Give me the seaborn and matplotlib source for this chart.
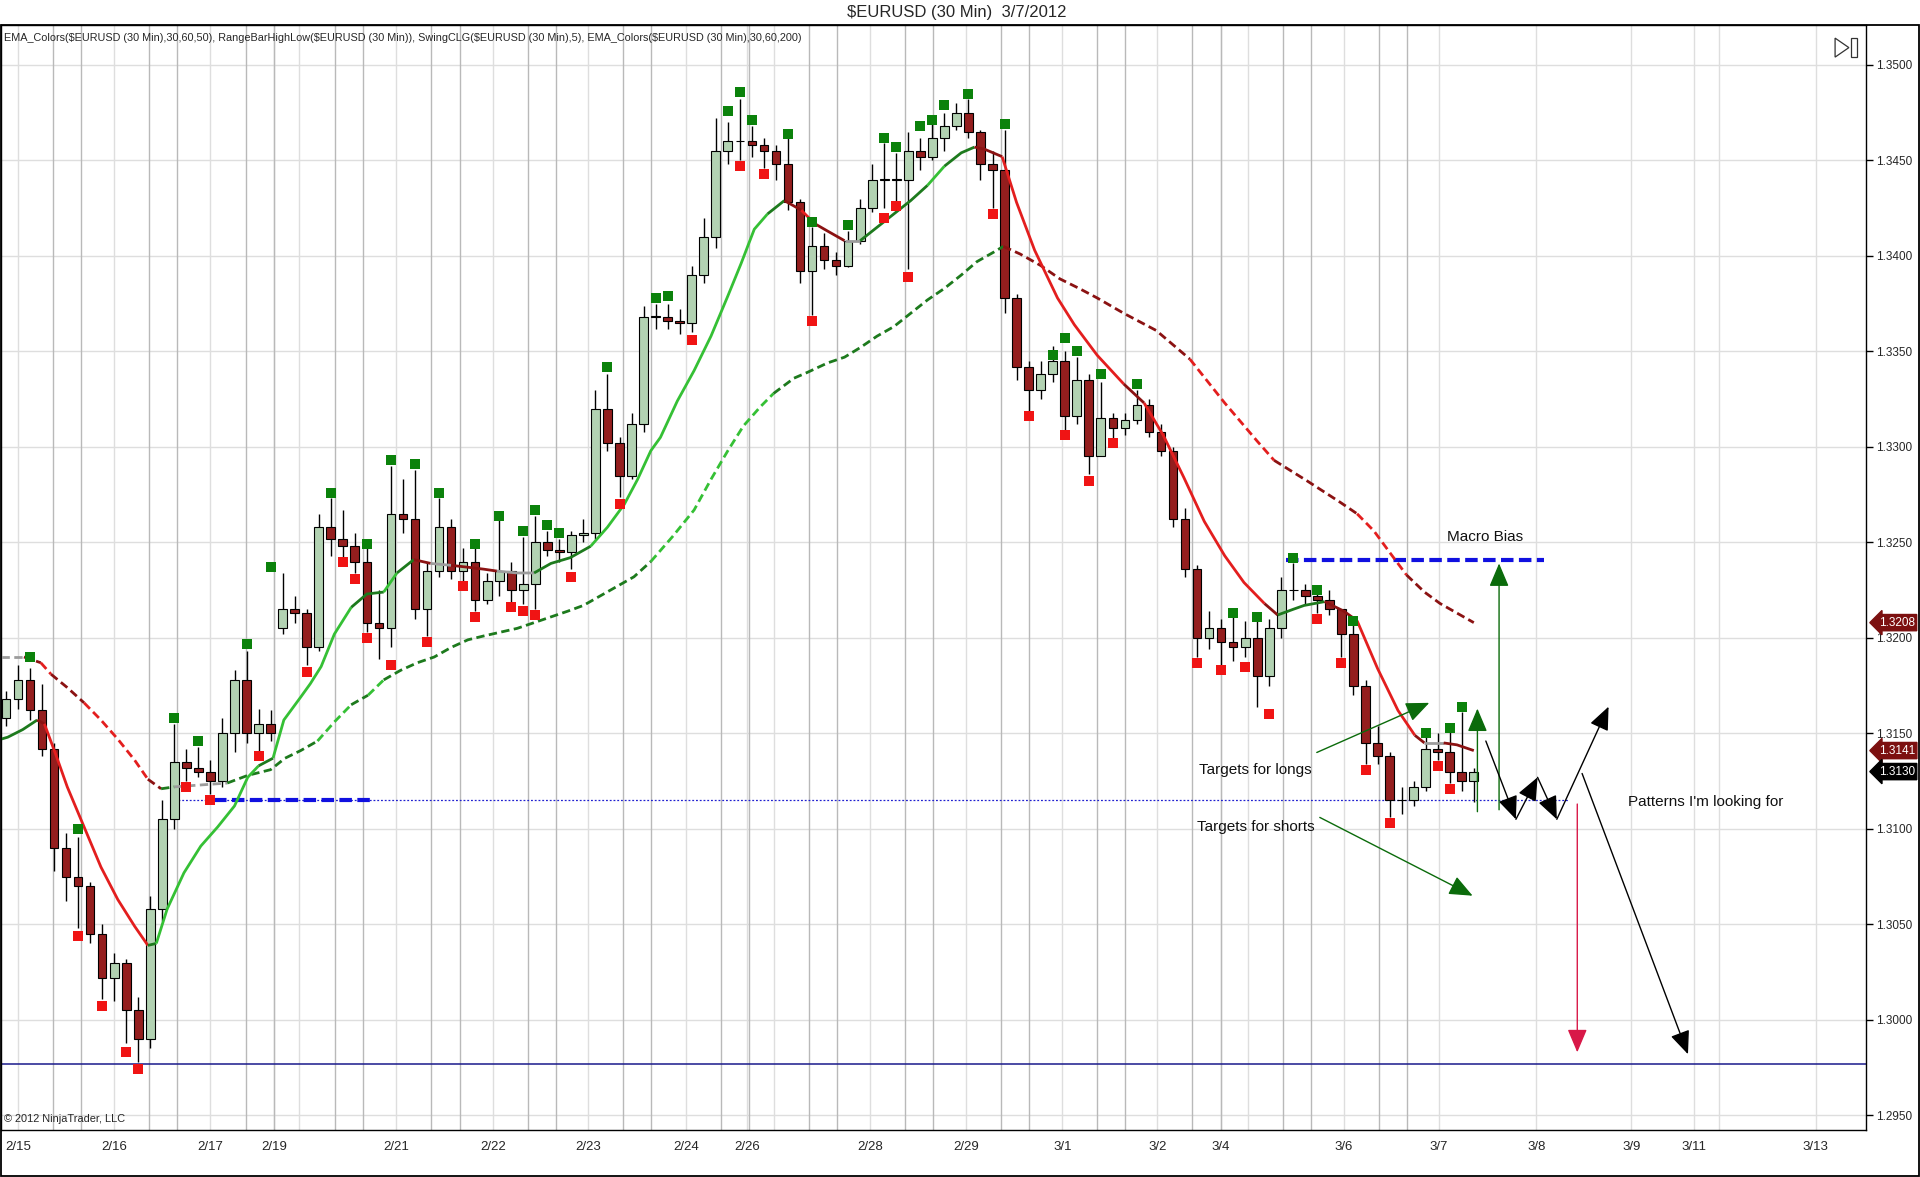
import numpy as np
import pandas as pd
import matplotlib
matplotlib.use("Agg")
import matplotlib.pyplot as plt
import seaborn as sns
from matplotlib.patches import Rectangle, Polygon

opens = [
    1.3158, 1.3168, 1.3178, 1.3162, 1.3142, 1.3090, 1.3075, 1.3070, 1.3045, 1.3022,
    1.3030, 1.3005, 1.2990, 1.3058, 1.3105, 1.3135, 1.3132, 1.3130, 1.3125, 1.3150,
    1.3178, 1.3150, 1.3155, 1.3205, 1.3215, 1.3213, 1.3195, 1.3258, 1.3252, 1.3248,
    1.3240, 1.3208, 1.3205, 1.3265, 1.3262, 1.3215, 1.3235, 1.3258, 1.3235, 1.3240,
    1.3220, 1.3230, 1.3235, 1.3225, 1.3228, 1.3250, 1.3246, 1.3245, 1.3254, 1.3255,
    1.3320, 1.3302, 1.3285, 1.3312, 1.3368, 1.3368, 1.3366, 1.3365, 1.3390, 1.3410,
    1.3455, 1.3460, 1.3460, 1.3458, 1.3455, 1.3448, 1.3428, 1.3392, 1.3405, 1.3398,
    1.3395, 1.3408, 1.3425, 1.3440, 1.3440, 1.3440, 1.3455, 1.3452, 1.3462, 1.3468,
    1.3475, 1.3465, 1.3448, 1.3445, 1.3378, 1.3342, 1.3330, 1.3338, 1.3345, 1.3316,
    1.3335, 1.3295, 1.3315, 1.3310, 1.3314, 1.3322, 1.3308, 1.3298, 1.3262, 1.3236,
    1.3200, 1.3205, 1.3198, 1.3195, 1.3200, 1.3180, 1.3205, 1.3225, 1.3225, 1.3222,
    1.3220, 1.3215, 1.3202, 1.3175, 1.3145, 1.3138, 1.3115, 1.3115, 1.3122, 1.3142,
    1.3140, 1.3130, 1.3125,
]
highs = [
    1.3172, 1.3186, 1.3184, 1.3176, 1.3145, 1.3098, 1.3096, 1.3072, 1.3050, 1.3035,
    1.3032, 1.3012, 1.3065, 1.3115, 1.3155, 1.3142, 1.3143, 1.3136, 1.3158, 1.3183,
    1.3193, 1.3163, 1.3162, 1.3234, 1.3222, 1.3215, 1.3265, 1.3273, 1.3267, 1.3255,
    1.3247, 1.3225, 1.3290, 1.3283, 1.3288, 1.3240, 1.3273, 1.3262, 1.3247, 1.3247,
    1.3234, 1.3262, 1.3240, 1.3253, 1.3264, 1.3256, 1.3252, 1.3256, 1.3262, 1.3330,
    1.3338, 1.3305, 1.3318, 1.3374, 1.3375, 1.3375, 1.3372, 1.3395, 1.3420, 1.3472,
    1.3470, 1.3482, 1.3468, 1.3462, 1.3458, 1.3462, 1.3430, 1.3415, 1.3412, 1.3402,
    1.3413, 1.3430, 1.3448, 1.3459, 1.3454, 1.3465, 1.3462, 1.3469, 1.3475, 1.3480,
    1.3482, 1.3466, 1.3455, 1.3466, 1.3380, 1.3345, 1.3345, 1.3353, 1.3350, 1.3347,
    1.3338, 1.3334, 1.3318, 1.3318, 1.3330, 1.3325, 1.3312, 1.3300, 1.3268, 1.3238,
    1.3214, 1.3210, 1.3211, 1.3209, 1.3209, 1.3210, 1.3232, 1.3239, 1.3228, 1.3225,
    1.3225, 1.3215, 1.3209, 1.3178, 1.3154, 1.3140, 1.3122, 1.3125, 1.3148, 1.3150,
    1.3151, 1.3161, 1.3132,
]
lows = [
    1.3154, 1.3163, 1.3157, 1.3138, 1.3078, 1.3062, 1.3048, 1.3040, 1.3011, 1.3010,
    1.2988, 1.2978, 1.2985, 1.3052, 1.3100, 1.3125, 1.3127, 1.3118, 1.3122, 1.3140,
    1.3145, 1.3141, 1.3146, 1.3202, 1.3208, 1.3186, 1.3193, 1.3243, 1.3242, 1.3234,
    1.3203, 1.3189, 1.3195, 1.3255, 1.3210, 1.3201, 1.3232, 1.3231, 1.3230, 1.3214,
    1.3218, 1.3222, 1.3217, 1.3218, 1.3215, 1.3243, 1.3240, 1.3236, 1.3250, 1.3252,
    1.3298, 1.3274, 1.3283, 1.3308, 1.3362, 1.3362, 1.3359, 1.3360, 1.3386, 1.3404,
    1.3448, 1.3450, 1.3452, 1.3446, 1.3440, 1.3424, 1.3386, 1.3369, 1.3393, 1.3390,
    1.3394, 1.3406, 1.3423, 1.3425, 1.3429, 1.3393, 1.3445, 1.3450, 1.3455, 1.3466,
    1.3462, 1.3440, 1.3425, 1.3370, 1.3335, 1.3318, 1.3325, 1.3334, 1.3309, 1.3312,
    1.3286, 1.3295, 1.3304, 1.3306, 1.3312, 1.3305, 1.3295, 1.3258, 1.3232, 1.3190,
    1.3194, 1.3186, 1.3188, 1.3190, 1.3164, 1.3175, 1.3200, 1.3220, 1.3218, 1.3213,
    1.3212, 1.3190, 1.3170, 1.3134, 1.3134, 1.3106, 1.3108, 1.3112, 1.3120, 1.3136,
    1.3124, 1.3120, 1.3114,
]
closes = [
    1.3168, 1.3178, 1.3162, 1.3142, 1.3090, 1.3075, 1.3070, 1.3045, 1.3022, 1.3030,
    1.3005, 1.2990, 1.3058, 1.3105, 1.3135, 1.3132, 1.3130, 1.3125, 1.3150, 1.3178,
    1.3150, 1.3155, 1.3150, 1.3215, 1.3213, 1.3195, 1.3258, 1.3252, 1.3248, 1.3240,
    1.3208, 1.3205, 1.3265, 1.3262, 1.3215, 1.3235, 1.3258, 1.3235, 1.3240, 1.3220,
    1.3230, 1.3235, 1.3225, 1.3228, 1.3250, 1.3246, 1.3245, 1.3254, 1.3255, 1.3320,
    1.3302, 1.3285, 1.3312, 1.3368, 1.3368, 1.3366, 1.3365, 1.3390, 1.3410, 1.3455,
    1.3460, 1.3460, 1.3458, 1.3455, 1.3448, 1.3428, 1.3392, 1.3405, 1.3398, 1.3395,
    1.3408, 1.3425, 1.3440, 1.3440, 1.3440, 1.3455, 1.3452, 1.3462, 1.3468, 1.3475,
    1.3465, 1.3448, 1.3445, 1.3378, 1.3342, 1.3330, 1.3338, 1.3345, 1.3316, 1.3335,
    1.3295, 1.3315, 1.3310, 1.3314, 1.3322, 1.3308, 1.3298, 1.3262, 1.3236, 1.3200,
    1.3205, 1.3198, 1.3195, 1.3200, 1.3180, 1.3205, 1.3225, 1.3225, 1.3222, 1.3220,
    1.3215, 1.3202, 1.3175, 1.3145, 1.3138, 1.3115, 1.3115, 1.3122, 1.3142, 1.3140,
    1.3130, 1.3125, 1.3130,
]

# EMA(50) and EMA(200)
ema50_x = [-0.4, 0.15, 1.4, 2.6, 3.2, 4.2, 5.1, 6.5, 7.9, 9.3, 10.7, 11.8, 12.5, 13.4,
           14.8, 16.2, 17.6, 19.0, 20.1, 21.0, 22.2, 23.1, 24.5, 25.3, 26.2, 27.3, 28.7,
           30.0, 31.4, 32.5, 33.9, 35.3, 37.0, 38.4, 39.7, 40.8, 42.5, 43.9, 45.3, 46.9,
           48.6, 50.0, 51.4, 52.5, 53.6, 54.4, 55.8, 57.2, 58.6, 60.0, 61.1, 62.2, 63.3,
           64.7, 66.1, 67.2, 68.3, 69.7, 71.0, 72.4, 73.8, 75.2, 76.6, 78.0, 79.4, 80.5,
           81.3, 82.8, 84.0, 85.5, 87.4, 88.8, 90.7, 92.9, 94.6, 96.2, 97.9, 99.6, 101.3,
           102.9, 104.6, 105.7, 107.0, 107.9, 109.6, 111.2, 112.3, 114.0, 115.7, 117.1,
           117.9, 119.5, 120.6, 122.0]
ema50_y = [1.3147, 1.3148, 1.3152, 1.3157, 1.3155, 1.3138, 1.3122, 1.3101, 1.3080, 1.3063,
           1.3049, 1.3039, 1.3040, 1.3058, 1.3077, 1.3091, 1.3101, 1.3112, 1.3127, 1.3133,
           1.3137, 1.3157, 1.3169, 1.3176, 1.3185, 1.3202, 1.3216, 1.3223, 1.3224, 1.3234,
           1.3241, 1.3239, 1.3238, 1.3237, 1.3236, 1.3235, 1.3234, 1.3234, 1.3239, 1.3242,
           1.3248, 1.3258, 1.3270, 1.3283, 1.3298, 1.3305, 1.3324, 1.3340, 1.3358, 1.3379,
           1.3396, 1.3414, 1.3422, 1.3429, 1.3424, 1.3417, 1.3413, 1.3408, 1.3408, 1.3415,
           1.3422, 1.3429, 1.3437, 1.3447, 1.3454, 1.3457, 1.3456, 1.3452, 1.3428, 1.3403,
           1.3378, 1.3364, 1.3348, 1.3333, 1.3323, 1.3306, 1.3284, 1.3261, 1.3243, 1.3229,
           1.3218, 1.3212, 1.3215, 1.3217, 1.3219, 1.3214, 1.3209, 1.3184, 1.3162, 1.3149,
           1.3145, 1.3145, 1.3144, 1.3141]
ema200_x = [-0.4, 0.15, 1.5, 2.9, 3.75, 5.1, 6.5, 7.9, 9.3, 10.7, 11.8, 12.9, 14.0, 16.2,
            18.4, 20.1, 22.0, 23.2, 24.5, 25.9, 27.3, 28.7, 30.1, 31.4, 32.8, 34.2, 35.6,
            37.0, 38.4, 39.7, 41.1, 42.5, 43.9, 45.3, 46.7, 48.0, 49.4, 50.8, 52.2, 53.6,
            55.4, 57.2, 58.6, 60.0, 61.3, 62.7, 63.8, 65.5, 66.6, 68.3, 69.7, 71.0, 72.4,
            73.8, 75.2, 76.6, 78.0, 79.4, 80.7, 82.1, 82.9, 84.3, 86.0, 87.6, 89.2, 90.7,
            92.9, 95.6, 98.4, 101.3, 104.0, 105.4, 108.2, 110.9, 112.3, 113.7, 115.1, 116.4,
            117.9, 119.2, 122.0]
ema200_y = [1.3190, 1.3190, 1.3190, 1.3187, 1.3181, 1.3174, 1.3166, 1.3157, 1.3147, 1.3136,
            1.3126, 1.3121, 1.3122, 1.3123, 1.3124, 1.3128, 1.3131, 1.3137, 1.3141, 1.3146,
            1.3156, 1.3165, 1.3170, 1.3178, 1.3183, 1.3187, 1.3190, 1.3195, 1.3199, 1.3201,
            1.3203, 1.3205, 1.3208, 1.3211, 1.3214, 1.3217, 1.3222, 1.3227, 1.3232, 1.3240,
            1.3253, 1.3267, 1.3283, 1.3298, 1.3311, 1.3321, 1.3328, 1.3336, 1.3339, 1.3344,
            1.3347, 1.3352, 1.3358, 1.3363, 1.3370, 1.3377, 1.3383, 1.3390, 1.3397, 1.3402,
            1.3405, 1.3401, 1.3395, 1.3388, 1.3383, 1.3378, 1.3370, 1.3361, 1.3346, 1.3323,
            1.3303, 1.3293, 1.3282, 1.3271, 1.3265, 1.3256, 1.3244, 1.3233, 1.3224, 1.3218,
            1.3208]

# SwingCLG(5) markers
swing_hi_x = [1.53, 5.55, 14.0, 15.65, 19.8, 22.3, 27.0, 30.0, 31.6, 33.65, 35.95, 38.6,
              41.3, 42.8, 43.9, 44.9, 46.4, 49.7, 53.7, 54.9, 59.55, 60.6, 61.9, 64.6,
              67.2, 70.0, 72.8, 74.2, 75.5, 76.7, 77.9, 79.5, 82.8, 86.5, 87.7, 89.1,
              91.0, 94.0, 102.0, 103.8, 106.6, 109.3, 111.6, 118.3, 119.6, 120.8]
swing_hi_y = [1.3190, 1.3100, 1.3158, 1.3146, 1.3197, 1.3237, 1.3276, 1.3249, 1.3293,
              1.3291, 1.3276, 1.3249, 1.3264, 1.3256, 1.3267, 1.3259, 1.3255, 1.3342,
              1.3378, 1.3379, 1.3476, 1.3486, 1.3471, 1.3464, 1.3418, 1.3416, 1.3462,
              1.3457, 1.3468, 1.3471, 1.3479, 1.3485, 1.3469, 1.3348, 1.3357, 1.3350,
              1.3338, 1.3333, 1.3213, 1.3211, 1.3242, 1.3225, 1.3209, 1.3150, 1.3153, 1.3164]
swing_lo_x = [5.55, 7.9, 10.06, 11.36, 15.2, 17.3, 20.5, 25.35, 27.5, 28.8, 30.3, 31.5,
              34.5, 37.5, 39.1, 41.6, 42.6, 43.6, 46.9, 51.45, 56.6, 61.1, 62.9, 66.9,
              72.5, 73.5, 75.0, 81.8, 84.85, 88.4, 90.2, 91.7, 98.98, 101.3, 102.5, 104.5,
              109.0, 110.8, 113.0, 115.1, 118.8, 120.3]
swing_lo_y = [1.3044, 1.3007, 1.2983, 1.2974, 1.3122, 1.3115, 1.3138, 1.3182, 1.3240,
              1.3231, 1.3200, 1.3186, 1.3198, 1.3227, 1.3211, 1.3216, 1.3214, 1.3212,
              1.3232, 1.3270, 1.3356, 1.3447, 1.3443, 1.3366, 1.3420, 1.3426, 1.3389,
              1.3422, 1.3316, 1.3306, 1.3282, 1.3302, 1.3187, 1.3183, 1.3185, 1.3160,
              1.3210, 1.3187, 1.3131, 1.3103, 1.3133, 1.3121]

# horizontal levels
range_low = 1.2977
support = 1.3115
macro_bias = 1.3241

# date axis (x = candle number)
tick_labels = ['2/15', '2/16', '2/17', '2/19', '2/20', '2/21', '2/22', '2/23', '2/24',
               '2/26', '2/27', '2/28', '2/29', '3/1', '3/2', '3/4', '3/5', '3/6', '3/7',
               '3/8', '3/9', '3/11', '3/12', '3/13']
tick_pos = [1.0, 9.0, 17.0, 22.3, 24.4, 32.45, 40.5, 48.4, 56.5, 61.6, 63.8, 71.8, 79.8,
            87.8, 95.7, 101.0, 103.2, 111.2, 119.1, 127.2, 135.1, 140.3, 142.4, 150.4]
hidden_labels = ['2/20', '2/27', '3/5', '3/12']
session_days = ['2/15', '2/16', '2/17', '2/20', '2/21', '2/22', '2/23', '2/24', '2/27',
                '2/28', '2/29', '3/1', '3/2', '3/5', '3/6']
session_breaks = [2.92, 5.25]

UP = '#B2D2B2'
DOWN = '#941E1E'


def slope_colors(xs, ys, flat=0.00006, steep=0.0006):
    s = np.diff(ys) / np.diff(xs)
    out = []
    for v in s:
        if v > steep:
            out.append('#35C035')
        elif v > flat:
            out.append('#1D7A1D')
        elif v >= -flat:
            out.append('#9C9C9C')
        elif v >= -steep:
            out.append('#8B1212')
        else:
            out.append('#E31E1E')
    return out


def draw_ema(ax, xs, ys, ls, lw):
    xs = np.asarray(xs)
    ys = np.asarray(ys)
    cols = slope_colors(xs, ys)
    start = 0
    for i in range(1, len(cols) + 1):
        if i == len(cols) or cols[i] != cols[start]:
            ax.plot(xs[start:i + 1], ys[start:i + 1], color=cols[start], lw=lw,
                    ls=ls, zorder=4, solid_capstyle='butt')
            start = i


sns.set_theme(style='white')
plt.rcParams['font.family'] = ['Liberation Sans', 'DejaVu Sans']
NARROW = ['Liberation Sans Narrow', 'Liberation Sans', 'DejaVu Sans']

fig = plt.figure(figsize=(19.2, 11.77), dpi=100)
ax = fig.add_axes([0.0005, 0.0399, 0.9714, 0.9388])
ax.set_facecolor('white')

ax.set_xlim(-0.41, 154.6)
ax.set_ylim(1.29423, 1.35209)

# grid + session lines
ax.set_xticks(tick_pos)
ax.set_xticklabels(['' if t in hidden_labels else t for t in tick_labels],
                   fontfamily=NARROW, fontsize=9.5)
yt = np.round(np.arange(1.2950, 1.35001, 0.005), 4)
ax.set_yticks(yt)
ax.set_yticklabels([f'{v:.4f}' for v in yt], fontsize=8.5)
ax.yaxis.tick_right()
ax.tick_params(axis='x', direction='out', length=6, width=1, color='black', pad=2)
ax.tick_params(axis='y', direction='out', length=5, width=1, color='black', pad=2)
ax.grid(True, color='#DEDEDE', lw=1)
ax.set_axisbelow(True)
pos = dict(zip(tick_labels, tick_pos))
for d in session_days:
    for off in session_breaks:
        ax.axvline(pos[d] + off, color='#B9B9B9', lw=1, zorder=0.6)
for s in ax.spines.values():
    s.set_color('black')
    s.set_linewidth(1)

# levels
ax.axhline(range_low, color='#1A1A8C', lw=1.1, zorder=2)
ax.plot([14.3, 129.8], [support, support], color='#2020D0', lw=0.9, ls=(0, (1.5, 1.5)), zorder=2)
ax.plot([17.3, 30.3], [support, support], color='#1010E0', lw=3, ls=(0, (3, 1.3)), zorder=2)
ax.plot([106.4, 127.8], [macro_bias, macro_bias], color='#1010E0', lw=3, ls=(0, (3, 1.3)), zorder=2)

# moving averages
draw_ema(ax, ema200_x, ema200_y, (0, (3, 1.6)), 2.0)
draw_ema(ax, ema50_x, ema50_y, '-', 2.0)

# candles
df = pd.DataFrame({'open': opens, 'high': highs, 'low': lows, 'close': closes})
df['x'] = np.arange(len(df))
up = df['close'] >= df['open']
ax.vlines(df['x'], df['low'], df['high'], color='black', lw=1.0, zorder=3)
body = (df['close'] - df['open']).abs().clip(lower=0.00003)
ax.bar(df['x'], body, bottom=df[['open', 'close']].min(axis=1), width=0.72,
       color=np.where(up, UP, DOWN), edgecolor='black', linewidth=0.8, zorder=3.5)

# swing markers
sns.scatterplot(x=np.floor(np.array(swing_hi_x) + 0.5), y=swing_hi_y, marker='s', s=46,
                color='#0B820B', linewidth=0, ax=ax, zorder=5, legend=False)
sns.scatterplot(x=np.floor(np.array(swing_lo_x) + 0.5), y=swing_lo_y, marker='s', s=46,
                color='#F01414', linewidth=0, ax=ax, zorder=5, legend=False)


def arrow(p0, p1, color, lw=1.0):
    ax.annotate('', xy=p1, xytext=p0, zorder=6,
                arrowprops=dict(arrowstyle='-|>,head_length=0.9,head_width=0.38',
                                mutation_scale=16, color=color, lw=lw,
                                shrinkA=0, shrinkB=0))


GREEN = '#0B6B0B'
arrow((108.95, 1.3140), (118.3, 1.3166), GREEN)
arrow((109.2, 1.3106), (121.9, 1.3065), GREEN)
arrow((124.1, 1.3110), (124.1, 1.3239), GREEN)
arrow((122.3, 1.3109), (122.3, 1.3163), GREEN)
zig = [(123.0, 1.3146), (125.5, 1.3105), (127.3, 1.3127), (128.9, 1.3105), (133.2, 1.3164)]
for a, b in zip(zig[:-1], zig[1:]):
    arrow(a, b, 'black')
arrow((131.0, 1.3129), (139.8, 1.2982), 'black')
arrow((130.6, 1.3113), (130.6, 1.2983), '#D81848')

txt = dict(fontsize=11, color='#111111', va='center', zorder=7)
ax.text(122.95, 1.3253, 'Macro Bias', ha='center', **txt)
ax.text(99.2, 1.3131, 'Targets for longs', ha='left', **txt)
ax.text(99.0, 1.3101, 'Targets for shorts', ha='left', **txt)
ax.text(134.8, 1.3114, "Patterns I'm looking for", ha='left', **txt)

# labels
fig.text(0.4985, 0.9890, '$EURUSD (30 Min)  3/7/2012', ha='center', va='center',
         fontsize=12, fontfamily=NARROW, parse_math=False)
ax.text(0.0015, 0.9883,
        'EMA_Colors($EURUSD (30 Min),30,60,50), RangeBarHighLow($EURUSD (30 Min)), '
        'SwingCLG($EURUSD (30 Min),5), EMA_Colors($EURUSD (30 Min),30,60,200)',
        transform=ax.transAxes, ha='left', va='center', fontsize=7.85,
        fontfamily=NARROW, parse_math=False, zorder=7)
ax.text(0.0015, 0.0055, '\u00a9 2012 NinjaTrader, LLC', transform=ax.transAxes,
        ha='left', va='bottom', fontsize=7.9, fontfamily=NARROW, zorder=7)

# last-value markers on the price axis
for val, fc in [(ema200_y[-1], '#7C1010'), (ema50_y[-1], '#7C1010'), (closes[-1], '#000000')]:
    ax.annotate(f'{val:.4f}', xy=(1.0, val), xycoords=('axes fraction', 'data'),
                xytext=(9, 0), textcoords='offset points', ha='left', va='center',
                fontsize=8.5, color='white', annotation_clip=False, zorder=8,
                bbox=dict(boxstyle='larrow,pad=0.18', fc=fc, ec=fc))

# "go to end" glyph top right
ax.add_patch(Polygon([(0.9834, 0.9882), (0.9834, 0.9710), (0.9908, 0.9796)], closed=True,
                     fill=False, ec='#333333', lw=0.9, transform=ax.transAxes, zorder=8))
ax.add_patch(Rectangle((0.9920, 0.9710), 0.0030, 0.0172, fill=False, ec='#333333', lw=0.9,
                       transform=ax.transAxes, zorder=8))

# outer frame
fig.patches.append(Rectangle((0.0005, 0.0009), 0.9990, 0.9779, transform=fig.transFigure,
                             fill=False, ec='black', lw=1.3))

fig.savefig('out.png', dpi=100)
